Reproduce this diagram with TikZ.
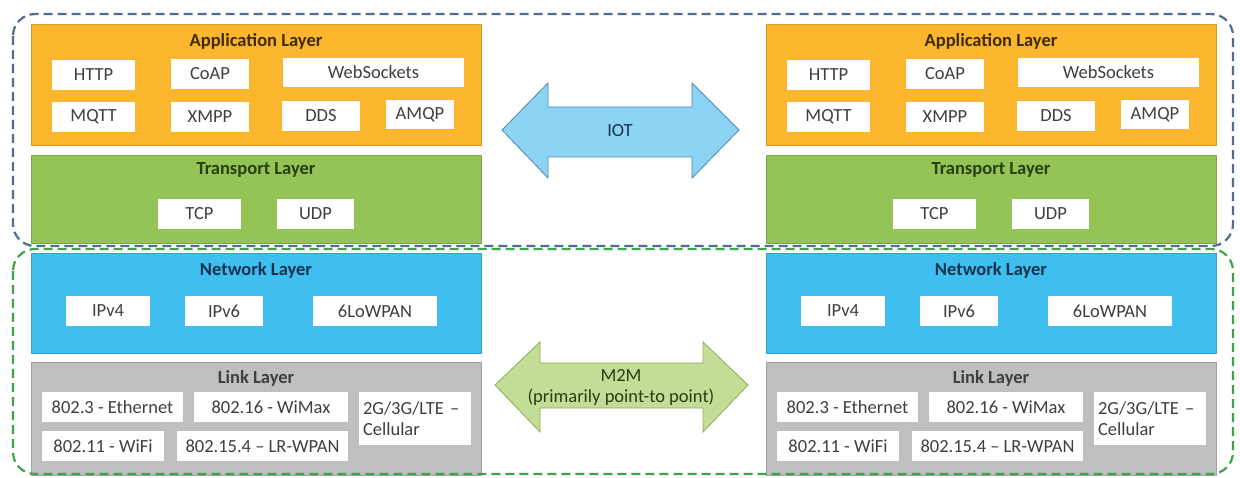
\documentclass[tikz,border=0pt]{standalone}
\usepackage{fontspec}
\setmainfont{Carlito}

\definecolor{appfill}{HTML}{FBB62E}
\definecolor{transfill}{HTML}{94C356}
\definecolor{netfill}{HTML}{3FBEF0}
\definecolor{linkfill}{HTML}{BFBFBF}
\definecolor{txtgray}{HTML}{3F3F3F}
\definecolor{apptxt}{HTML}{3F2C05}
\definecolor{transtxt}{HTML}{263F10}
\definecolor{nettxt}{HTML}{16324F}
\definecolor{iotfill}{HTML}{8DD3F3}
\definecolor{iotline}{HTML}{4E88B2}
\definecolor{m2mfill}{HTML}{C3DC96}
\definecolor{m2mline}{HTML}{8AAD5A}
\definecolor{iotdash}{HTML}{4F6F90}
\definecolor{m2mdash}{HTML}{3AA64A}

\tikzset{
  base/.style={font=\fontsize{18.5}{21}\selectfont},
  proto/.style={base, fill=white, text=txtgray, inner sep=0pt, minimum height=30pt},
  layer/.style={draw=#1!85!black, fill=#1, line width=0.8pt, inner sep=0pt,
    minimum width=450pt},
  title/.style={base, font=\fontsize{18.5}{21}\selectfont\bfseries},
}

\begin{document}
\begin{tikzpicture}[x=1pt,y=-1pt]
  \useasboundingbox (0,0) rectangle (1240,478);

  % the same protocol stack on both sides
  \foreach \side/\dx in {l/0, r/735} {
    \begin{scope}[xshift=\dx]
      % Application layer
      \node[layer=appfill, minimum height=121pt] (app-\side) at (256,84.5) {};
      \node[title, text=apptxt] (apptitle-\side) at (256,41) {Application Layer};
      \node[proto, minimum width=83pt] (http-\side) at (93.5,75) {HTTP};
      \node[proto, minimum width=78pt] (coap-\side) at (210,74) {CoAP};
      \node[proto, minimum width=181pt, minimum height=29pt] (ws-\side) at (373.5,72.5) {WebSockets};
      \node[proto, minimum width=83pt] (mqtt-\side) at (93.5,117) {MQTT};
      \node[proto, minimum width=78pt] (xmpp-\side) at (210,117) {XMPP};
      \node[proto, minimum width=78pt] (dds-\side) at (321,116) {DDS};
      \node[proto, minimum width=68pt, minimum height=29pt] (amqp-\side) at (420,114.5) {AMQP};

      % Transport layer
      \node[layer=transfill, minimum height=88pt] (trans-\side) at (256,199) {};
      \node[title, text=transtxt] (transtitle-\side) at (256,170) {Transport Layer};
      \node[proto, minimum width=83pt] (tcp-\side) at (199.5,214) {TCP};
      \node[proto, minimum width=77pt] (udp-\side) at (315.5,214) {UDP};

      % Network layer
      \node[layer=netfill, minimum height=100pt] (net-\side) at (256,303) {};
      \node[title, text=nettxt] (nettitle-\side) at (256,270) {Network Layer};
      \node[proto, minimum width=84pt] (ipv4-\side) at (108,311) {IPv4};
      \node[proto, minimum width=78pt] (ipv6-\side) at (224,311) {IPv6};
      \node[proto, minimum width=124pt] (lowpan-\side) at (375,311) {6LoWPAN};

      % Link layer
      \node[layer=linkfill, minimum height=113pt] (link-\side) at (256,418.5) {};
      \node[title, text=txtgray] (linktitle-\side) at (256,378) {Link Layer};
      \node[proto, minimum width=141pt] (eth-\side) at (112.5,407) {802.3 - Ethernet};
      \node[proto, minimum width=154pt] (wimax-\side) at (271,407) {802.16 - WiMax};
      \node[proto, minimum width=112pt, minimum height=53pt, align=left,
        text width=104pt] (cell-\side) at (415,418.5) {2G/3G/LTE --\\Cellular};
      \node[proto, minimum width=122pt] (wifi-\side) at (103,446) {802.11 - WiFi};
      \node[proto, minimum width=171pt] (lrwpan-\side) at (262.5,446) {802.15.4 -- LR-WPAN};
    \end{scope}
  }

  % IOT double arrow
  \draw[fill=iotfill, draw=iotline, line width=0.8pt] (502,130) -- (548,83) -- (548,107)
    -- (692,107) -- (692,83) -- (739,130) -- (692,178) -- (692,157)
    -- (548,157) -- (548,178) -- cycle;
  \node[base, text=nettxt] (iot) at (620,131) {IOT};

  % M2M double arrow
  \draw[fill=m2mfill, draw=m2mline, line width=0.8pt] (495,385) -- (540,342) -- (540,363)
    -- (703,363) -- (703,342) -- (748,385) -- (703,432) -- (703,408)
    -- (540,408) -- (540,432) -- cycle;
  \node[base, text=transtxt, align=center] (m2m) at (621,387)
    {M2M\\(primarily point-to point)};

  % dashed groups round both stacks
  \draw[iotdash, line width=2.2pt, dash pattern=on 9pt off 5pt, rounded corners=22pt]
    (13,14) rectangle (1233,246);
  \draw[m2mdash, line width=2.2pt, dash pattern=on 9pt off 5pt, rounded corners=22pt]
    (13,249) rectangle (1233,474);
\end{tikzpicture}
\end{document}
